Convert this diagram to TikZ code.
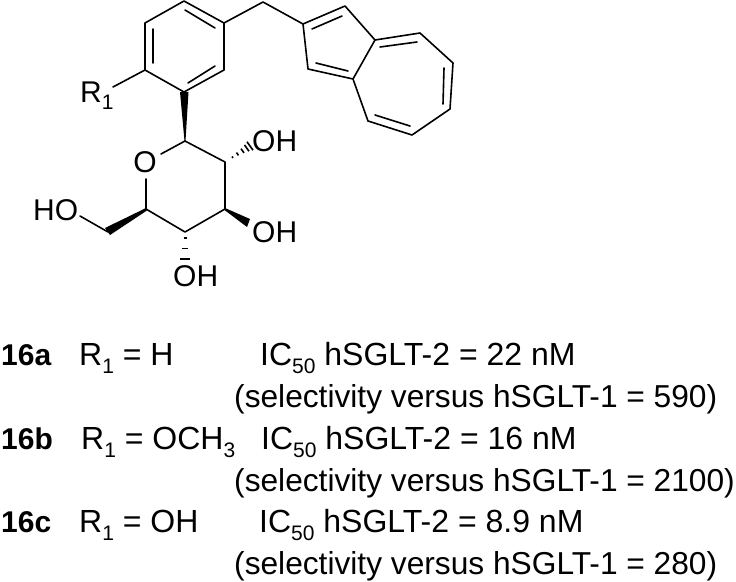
\documentclass[tikz,border=0pt]{standalone}
\usepackage{fontspec}
\usetikzlibrary{calc}
\setmainfont{Liberation Sans}
\tikzset{
  bond/.style={line width=1.6pt,line cap=round,line join=round,black},
  atom/.style={inner sep=0pt,font=\fontsize{30}{34}\selectfont},
  tx/.style={inner sep=0pt,font=\fontsize{32}{36}\selectfont,anchor=base west},
  txs/.style={inner sep=0pt,font=\fontsize{31.7}{36}\selectfont,anchor=base west},
  txb/.style={inner sep=0pt,font=\fontsize{30}{34}\selectfont\bfseries,anchor=base west},
  hash/.style={line width=1.6pt,black}
}
\newcommand{\sbs}[1]{\raisebox{-0.25em}{\fontsize{21}{23}\selectfont #1}}
\begin{document}
\begin{tikzpicture}[x=1pt,y=-1pt]
\useasboundingbox (0,0) rectangle (736,581);
% benzene
\coordinate (b1) at (184,1);\coordinate (b2) at (224,23);\coordinate (b3) at (224,70);
\coordinate (b4) at (184,92);\coordinate (b5) at (145,70);\coordinate (b6) at (145,23);
\coordinate (ch2) at (263,2);
% five ring
\coordinate (a) at (303,24);\coordinate (bb) at (345,6);\coordinate (c) at (375,40);
\coordinate (d) at (353,79);\coordinate (e) at (308,69);
% seven ring
\coordinate (f) at (420,33);\coordinate (g) at (453,63);\coordinate (h) at (450,109);
\coordinate (i) at (412,135);\coordinate (j) at (368,121);
% pyran
\coordinate (p1) at (185,141);\coordinate (p2) at (225,162);\coordinate (p3) at (225,209);
\coordinate (p4) at (185,232);\coordinate (p5) at (146,209);\coordinate (ch) at (108,232);
\node[atom] (O) at (145,162) {O};
\node[atom,anchor=base west] (R) at (80,102) {R\sbs{1}};
\node[atom,anchor=base west] (HO) at (33,220) {HO};
\node[atom,anchor=base west] (OH1) at (252,151) {OH};
\node[atom,anchor=base west] (OH2) at (252,242) {OH};
\node[atom,anchor=base west] (OH3) at (173,286) {OH};
\coordinate (rb) at (113,87);\coordinate (hob) at (80,216);
\draw[bond] (b1)--(b2)--(b3)--(b4)--(b5)--(b6)--cycle;
\draw[bond] (153,29)--(153,63) (185,10)--(215,28) (188,83)--(215,66);
\draw[bond] (b2)--(ch2)--(a);
\draw[bond] (a)--(bb)--(c)--(d)--(e)--cycle;
\draw[bond] (c)--(f)--(g)--(h)--(i)--(j)--(d);
\draw[bond] (312,29)--(342,16) (316,63)--(348,71) (380,47)--(417,42) (444,68)--(443,104) (410,126)--(375,115);
\draw[bond] (b5)--(rb);
\draw[bond] (p1)--(p2)--(p3)--(p4)--(p5)--(146,179);
\draw[bond] (p1)--(161,154);
\draw[bond] (ch)--(hob);
% wedges
\fill (180,92)--(188.5,92)--(185.5,141)--(184.5,141)--cycle;
\fill (146,208)--(147,210.5)--(110,235)--(105,228)--cycle;
\fill (225,208)--(224.5,210)--(247,227)--(250,219)--cycle;
% hashes
\foreach \t/\w in {0.3/1,0.5/2,0.7/3,0.87/4.5,1.0/6}{
  \draw[hash] ($(p2)!\t!(250,146)+(-\w*0.5,-\w*0.7)$)--($(p2)!\t!(250,146)+(\w*0.5,\w*0.7)$);
}
\foreach \t/\w in {0.2/1.5,0.55/3,0.9/5}{
  \draw[hash] ($(p4)!\t!(185,262)+(-\w,0)$)--($(p4)!\t!(185,262)+(\w,0)$);
}
% text
\node[txb] (l1) at (1,365) {16a};
\node[tx] (l1b) at (79,365) {R\sbs{1} = H};
\node[tx] (l1c) at (260,365) {IC\sbs{50} hSGLT-2 = 22 nM};
\node[txs] (l2) at (234,407) {(selectivity versus hSGLT-1 = 590)};
\node[txb] (l3) at (1,449) {16b};
\node[tx] (l3b) at (81,449) {R\sbs{1} = OCH\sbs{3}};
\node[tx] (l3c) at (261,449) {IC\sbs{50} hSGLT-2 = 16 nM};
\node[txs] (l4) at (234,491) {(selectivity versus hSGLT-1 = 2100)};
\node[txb] (l5) at (1,532) {16c};
\node[tx] (l5b) at (79,532) {R\sbs{1} = OH};
\node[tx] (l5c) at (259,532) {IC\sbs{50} hSGLT-2 = 8.9 nM};
\node[txs] (l6) at (234,574) {(selectivity versus hSGLT-1 = 280)};
\end{tikzpicture}
\end{document}
